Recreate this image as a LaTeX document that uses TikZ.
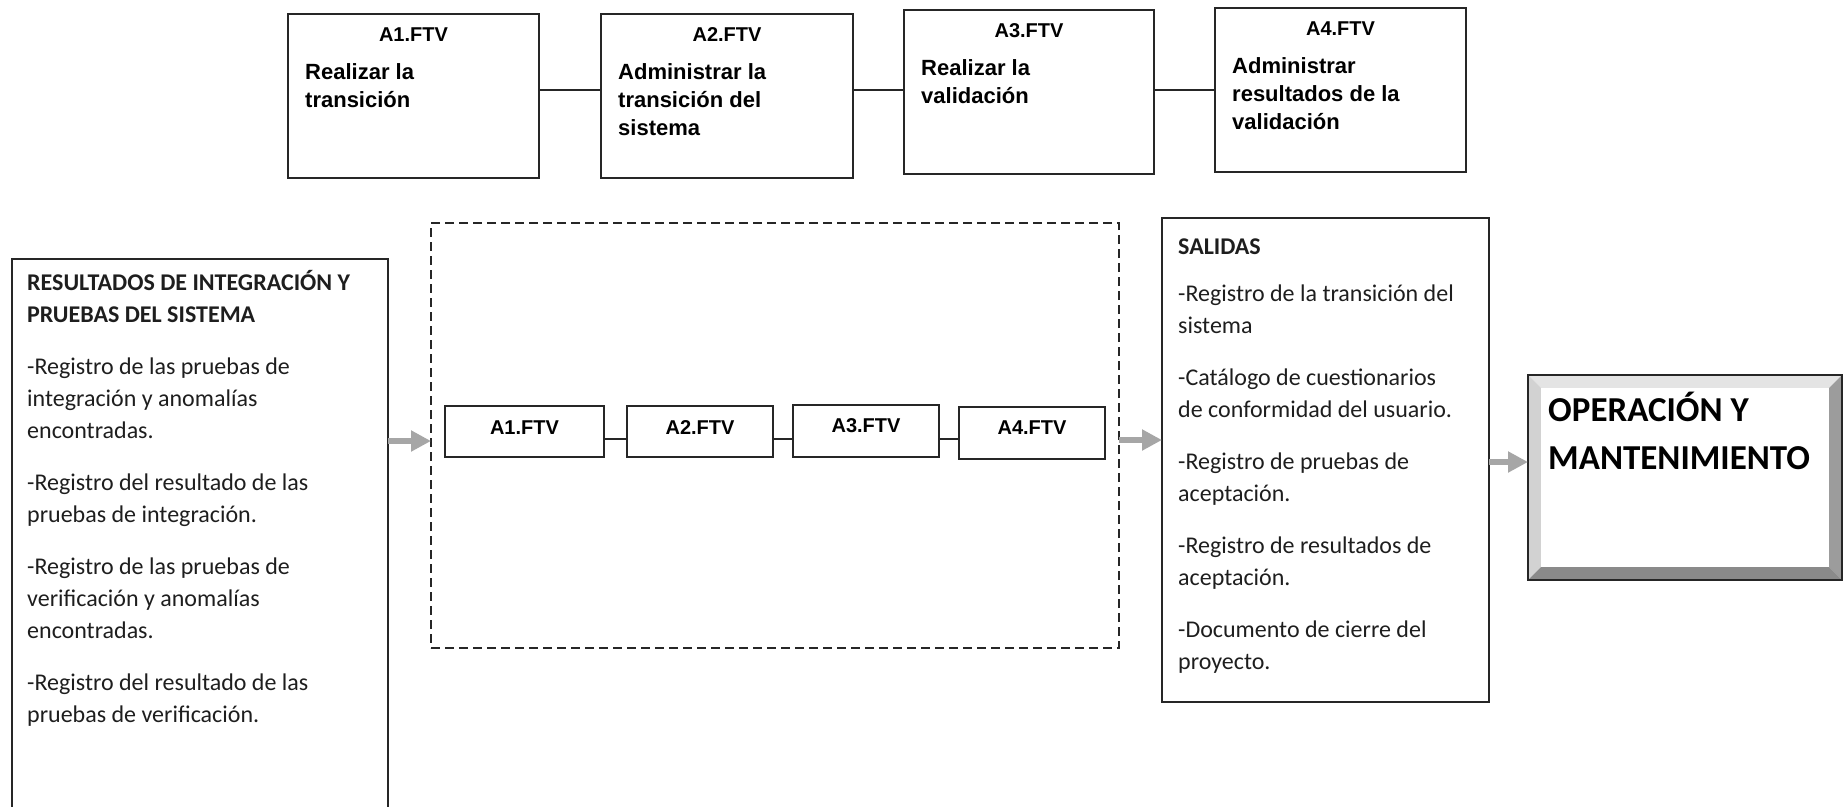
\documentclass[tikz,border=0pt]{standalone}
\usepackage{fontspec}
\setmainfont{Carlito}
\newfontfamily\arialf{Liberation Sans}
\usetikzlibrary{arrows.meta,calc}
\definecolor{boxline}{HTML}{262626}
\definecolor{txt}{HTML}{1E1E1E}
\definecolor{arrgray}{HTML}{A6A6A6}
\definecolor{bevtop}{HTML}{E4E4E4}
\definecolor{bevleft}{HTML}{D2D2D2}
\definecolor{bevright}{HTML}{9C9C9C}
\definecolor{bevbot}{HTML}{8A8A8A}
\begin{document}
\begin{tikzpicture}[x=1pt,y=-1pt,
  box/.style 2 args={draw=boxline,line width=1.8pt,minimum width=#1pt,minimum height=#2pt,
    anchor=north west,inner sep=0pt,outer sep=0pt},
  conn/.style={draw=boxline,line width=1.8pt},
  arr/.style={draw=arrgray,line width=6pt,-{Triangle[length=20pt,width=20pt]}},
  topttl/.style={font=\arialf\bfseries\fontsize{20}{24}\selectfont,anchor=base,inner sep=0pt},
  topbody/.style={font=\arialf\bfseries\fontsize{22}{28}\selectfont,anchor=north west,
    inner sep=0pt,align=left},
  inlbl/.style={font=\arialf\bfseries\fontsize{20}{24}\selectfont,anchor=base,inner sep=0pt},
  listtext/.style={font=\fontsize{24}{32}\selectfont,text=txt,anchor=north west,
    inner sep=0pt,align=left},
]
\useasboundingbox (0,0) rectangle (1843,806);

% ---- top row: the four activities
\node[box={251}{164}] (ta1) at (288,14) {};
\node[box={252}{164}] (ta2) at (601,14) {};
\node[box={250}{164}] (ta3) at (904,10) {};
\node[box={251}{164}] (ta4) at (1215,8) {};

\node[topttl] (tt1) at ($(ta1.north)+(0,27)$) {A1.FTV};
\node[topttl] (tt2) at ($(ta2.north)+(0,27)$) {A2.FTV};
\node[topttl] (tt3) at ($(ta3.north)+(0,27)$) {A3.FTV};
\node[topttl] (tt4) at ($(ta4.north)+(0,27)$) {A4.FTV};

\node[topbody] (tb1) at ($(ta1.north west)+(17,43)$) {\rule{0pt}{22pt}Realizar la\\transición};
\node[topbody] (tb2) at ($(ta2.north west)+(17,43)$) {\rule{0pt}{22pt}Administrar la\\transición del\\sistema};
\node[topbody] (tb3) at ($(ta3.north west)+(17,43)$) {\rule{0pt}{22pt}Realizar la\\validación};
\node[topbody] (tb4) at ($(ta4.north west)+(17,43)$) {\rule{0pt}{22pt}Administrar\\resultados de la\\validación};

\coordinate (toprow) at (0,90);
\draw[conn] (ta1.east |- toprow) -- (ta2.west |- toprow);
\draw[conn] (ta2.east |- toprow) -- (ta3.west |- toprow);
\draw[conn] (ta3.east |- toprow) -- (ta4.west |- toprow);

% ---- inputs
\node[box={376}{560}] (lbox) at (12,259) {};
\node[listtext] (ltext) at (27,264) {\rule{0pt}{26pt}\textbf{RESULTADOS DE INTEGRACIÓN Y}\\
  \textbf{PRUEBAS DEL SISTEMA}\\[20pt]
  -Registro de las pruebas de\\
  integración y anomalías\\
  encontradas.\\[20pt]
  -Registro del resultado de las\\
  pruebas de integración.\\[20pt]
  -Registro de las pruebas de\\
  verificación y anomalías\\
  encontradas.\\[20pt]
  -Registro del resultado de las\\
  pruebas de verificación.};

% ---- process block with the four activities
\node[draw=boxline,line width=1.5pt,dash pattern=on 9pt off 5pt,minimum width=688pt,
  minimum height=425pt,anchor=north west,inner sep=0pt,outer sep=0pt] (dbox) at (431,223) {};

\node[box={159}{51}] (ia1) at (445,406) {};
\node[box={146}{51}] (ia2) at (627,406) {};
\node[box={146}{52}] (ia3) at (793,405) {};
\node[box={146}{52}] (ia4) at (959,407) {};

\coordinate (lblrow) at (0,434);
\node[inlbl] (il1) at (ia1 |- lblrow) {A1.FTV};
\node[inlbl] (il2) at (ia2 |- lblrow) {A2.FTV};
\node[inlbl] (il3) at ($(ia3 |- lblrow)+(0,-2)$) {A3.FTV};
\node[inlbl] (il4) at (ia4 |- lblrow) {A4.FTV};

\coordinate (inrow) at (0,439);
\draw[conn] (ia1.east |- inrow) -- (ia2.west |- inrow);
\draw[conn] (ia2.east |- inrow) -- (ia3.west |- inrow);
\draw[conn] (ia3.east |- inrow) -- (ia4.west |- inrow);

% ---- outputs
\node[box={327}{484}] (sbox) at (1162,218) {};
\node[listtext] (stext) at (1178,228) {\rule{0pt}{26pt}\textbf{SALIDAS}\\[15pt]
  -Registro de la transición del\\
  sistema\\[20pt]
  -Catálogo de cuestionarios\\
  de conformidad del usuario.\\[20pt]
  -Registro de pruebas de\\
  aceptación.\\[20pt]
  -Registro de resultados de\\
  aceptación.\\[20pt]
  -Documento de cierre del\\
  proyecto.};

% ---- next phase (bevelled button)
\def\bev{13}
\node[minimum width=314pt,minimum height=205pt,anchor=north west,inner sep=0pt,
  outer sep=0pt] (op) at (1528,375) {};
\fill[bevtop] (op.north west) -- (op.north east) -- ($(op.north east)+(-\bev,\bev)$)
  -- ($(op.north west)+(\bev,\bev)$) -- cycle;
\fill[bevleft] (op.north west) -- ($(op.north west)+(\bev,\bev)$)
  -- ($(op.south west)+(\bev,-\bev)$) -- (op.south west) -- cycle;
\fill[bevright] (op.north east) -- (op.south east) -- ($(op.south east)+(-\bev,-\bev)$)
  -- ($(op.north east)+(-\bev,\bev)$) -- cycle;
\fill[bevbot] (op.south west) -- ($(op.south west)+(\bev,-\bev)$)
  -- ($(op.south east)+(-\bev,-\bev)$) -- (op.south east) -- cycle;
\fill[white] ($(op.north west)+(\bev,\bev)$) rectangle ($(op.south east)+(-\bev,-\bev)$);
\draw[boxline,line width=2pt] (op.north west) rectangle (op.south east);
\node[anchor=north west,inner sep=0pt,align=left,font=\bfseries\fontsize{35}{48}\selectfont]
  (optext) at (1548,384) {\rule{0pt}{37pt}OPERACIÓN Y\\MANTENIMIENTO};

% ---- flow arrows
\coordinate (ar1) at (0,441);
\coordinate (ar2) at (0,440);
\coordinate (ar3) at (0,462);
\draw[arr] (lbox.east |- ar1) -- (dbox.west |- ar1);
\draw[arr] (dbox.east |- ar2) -- (sbox.west |- ar2);
\draw[arr] (sbox.east |- ar3) -- (op.west |- ar3);
\end{tikzpicture}
\end{document}
